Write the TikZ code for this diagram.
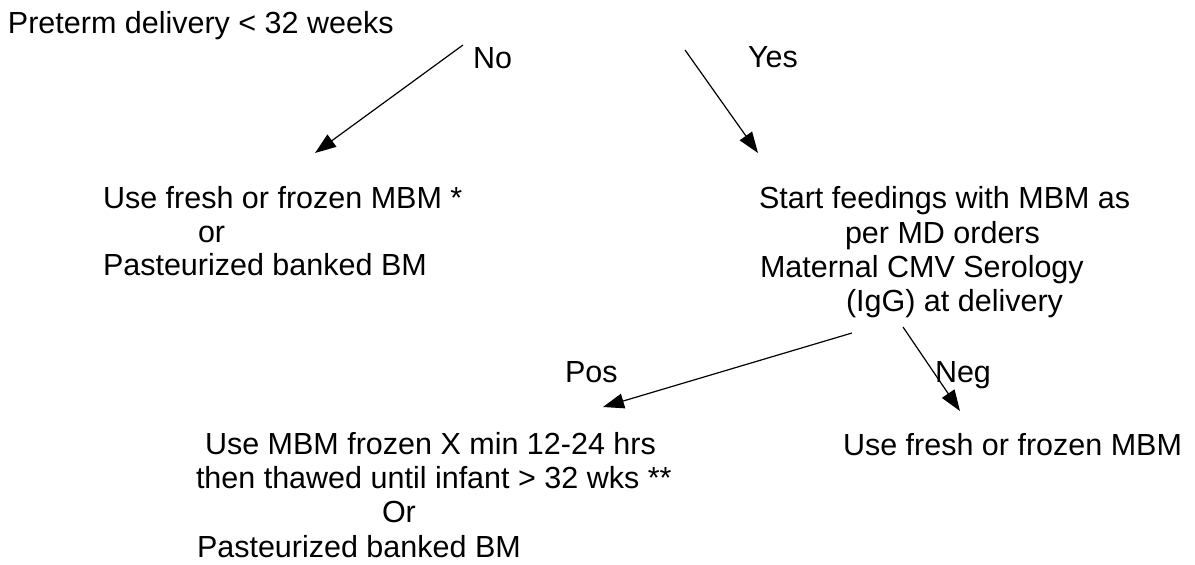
\documentclass[tikz,border=0pt]{standalone}
\usepackage{fontspec}
\setmainfont{Liberation Sans}
\usetikzlibrary{arrows.meta}
\begin{document}
\begin{tikzpicture}[x=1pt,y=-1pt,
  txt/.style={anchor=base west,inner sep=0pt,outer sep=0pt,font=\fontsize{30.5}{34}\selectfont},
  conn/.style={line width=1.2pt,-{Triangle[length=21pt,width=15pt]}}]
\useasboundingbox (0,0) rectangle (1195,565);
% texts
\node[txt] (root) at (8,33) {Preterm delivery < 32 weeks};
\node[txt] (nolab) at (473,68) {No};
\node[txt] (yeslab) at (748,67) {Yes};
\node[txt] (la) at (103,208) {Use fresh or frozen MBM *};
\node[txt] (lb) at (198,242) {or};
\node[txt] (lc) at (103,275) {Pasteurized banked BM};
\node[txt] (ra) at (759,208) {Start feedings with MBM as};
\node[txt] (rb) at (845,243) {per MD orders};
\node[txt] (rc) at (760,277) {Maternal CMV Serology};
\node[txt] (rd) at (846,311) {(IgG) at delivery};
\node[txt] (poslab) at (565,382) {Pos};
\node[txt] (neglab) at (935,382) {Neg};
\node[txt] (pa) at (205,454) {Use MBM frozen X min 12-24 hrs};
\node[txt] (pb) at (196,488) {then thawed until infant > 32 wks **};
\node[txt] (pc) at (382,522) {Or};
\node[txt] (pd) at (197,557) {Pasteurized banked BM};
\node[txt] (na) at (843,455) {Use fresh or frozen MBM};
% connector ends
\coordinate (noS) at (463,45);
\coordinate (noE) at (315,153);
\coordinate (yesS) at (685,50);
\coordinate (yesE) at (758,153);
\coordinate (posS) at (852,333);
\coordinate (posE) at (603,407);
\coordinate (negS) at (903,327);
\coordinate (negE) at (960,411);
\draw[conn] (noS) -- (noE);
\draw[conn] (yesS) -- (yesE);
\draw[conn] (posS) -- (posE);
\draw[conn] (negS) -- (negE);
\end{tikzpicture}
\end{document}
